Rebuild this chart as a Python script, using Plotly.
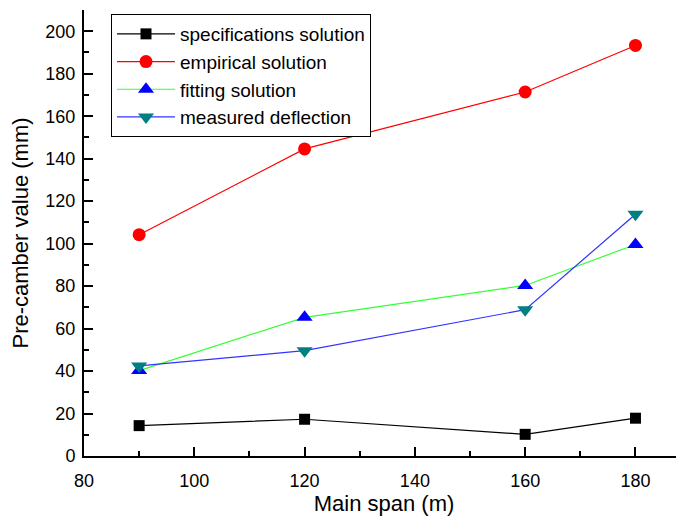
import plotly.graph_objects as go

span = [90, 120, 160, 180]
spec = [14.3, 17.3, 10.2, 17.8]
empirical = [104.2, 144.6, 171.4, 193.3]
fitting = [40.2, 65.3, 80.3, 99.6]
measured = [42.4, 49.6, 68.9, 113.8]

names = ["specifications solution", "empirical solution", "fitting solution", "measured deflection"]
line_colors = ["#000000", "#ff0000", "#33ff33", "#3333ff"]
marker_colors = ["#000000", "#ff0000", "#0000ff", "#008080"]
symbols = ["square", "circle", "triangle-up", "triangle-down"]
sizes = [11, 13, 14, 14]
series = [spec, empirical, fitting, measured]

fig = go.Figure()
for n, s, lc, mc, sym, sz in zip(names, series, line_colors, marker_colors, symbols, sizes):
    fig.add_trace(go.Scatter(
        x=span, y=s, name=n, mode="lines+markers",
        line=dict(color=lc, width=1.2),
        marker=dict(symbol=sym, size=sz, color=mc, line=dict(width=0)),
    ))

font = "Arial, Liberation Sans, sans-serif"
# page has an 8px body margin, so the figure is offset by 8px
fig.update_layout(
    width=676, height=511,
    margin=dict(l=76, r=0, t=2, b=63),
    plot_bgcolor="white", paper_bgcolor="white",
    font=dict(family=font, size=18, color="black"),
    showlegend=True,
    legend=dict(
        x=0.045, y=0.991, xanchor="left", yanchor="top",
        bordercolor="black", borderwidth=1, bgcolor="white",
        font=dict(size=19), tracegroupgap=0, itemwidth=58,
    ),
    xaxis=dict(
        range=[80, 188.8], tickvals=[80, 100, 120, 140, 160, 180],
        showgrid=False, zeroline=False, showline=True, linecolor="black", linewidth=2,
        ticks="inside", ticklen=9, tickwidth=1.5, tickcolor="black",
        minor=dict(dtick=10, tick0=80, ticks="inside", ticklen=5, tickwidth=1.5, tickcolor="black"),
        title=dict(text="Main span (m)", font=dict(size=22), standoff=4),
        tickfont=dict(size=18), automargin=False, ticklabelstandoff=7,
    ),
    yaxis=dict(
        range=[0, 210], tickvals=[0, 20, 40, 60, 80, 100, 120, 140, 160, 180, 200],
        showgrid=False, zeroline=False, showline=True, linecolor="black", linewidth=2,
        ticks="inside", ticklen=9, tickwidth=1.5, tickcolor="black",
        minor=dict(dtick=10, tick0=0, ticks="inside", ticklen=5, tickwidth=1.5, tickcolor="black"),
        title=dict(text="Pre-camber value (mm)", font=dict(size=22), standoff=13),
        tickfont=dict(size=18), automargin=False, ticklabelstandoff=3,
    ),
)
fig.write_html("out.html")
